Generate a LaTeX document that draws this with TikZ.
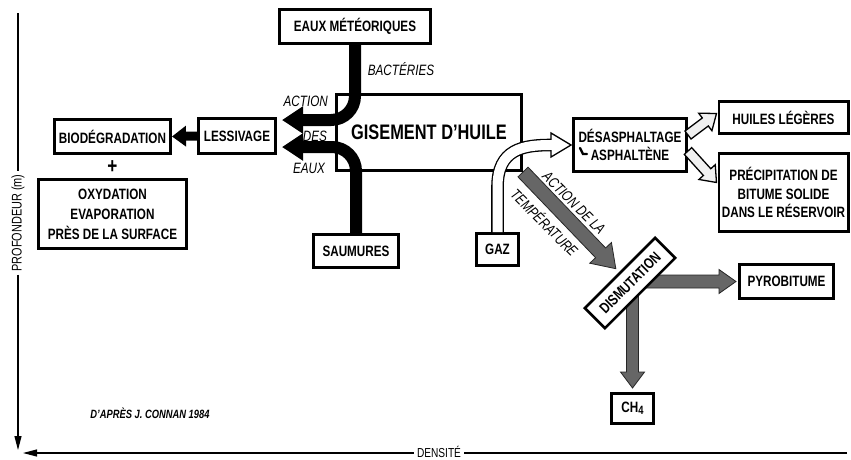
\documentclass[tikz,border=0pt]{standalone}
\usepackage{fontspec}
\setmainfont{Liberation Sans}[FakeStretch=0.78]
\usetikzlibrary{arrows.meta,calc,backgrounds}
\newcommand\boxfont{\bfseries\fontsize{15}{19}\selectfont}
\newcommand\labfont{\itshape\fontsize{15}{18}\selectfont}
% #1 style, #2 start, #3 end, #4 half shaft, #5 half head, #6 head length
\newcommand\bandarrow[6]{%
  \path[#1] let \p1=(#2), \p2=(#3), \n1={atan2(\y2-\y1,\x2-\x1)}, \n2={veclen(\x2-\x1,\y2-\y1)} in
  [shift={(\p1)}, rotate=\n1] (0pt,-#4) -- (\n2-#6,-#4) -- (\n2-#6,-#5) -- (\n2+0pt,0pt) -- (\n2-#6,#5) -- (\n2-#6,#4) -- (0pt,#4) -- cycle;}
\tikzset{
  box/.style={draw, line width=2.6pt, fill=white, align=center, inner sep=0pt, font=\boxfont},
  lab/.style={font=\labfont, inner sep=1pt},
  blk/.style={draw=black, line width=12pt, -{Triangle[length=21pt,width=26pt]}},
  hollow/.style={draw=black, line width=1.3pt, fill=gray!12, line join=miter},
  shade/.style={draw=black!85, line width=0.8pt, fill=black!60, line join=miter},
  axis/.style={line width=1.1pt},
}
\begin{document}
\begin{tikzpicture}[x=1pt,y=-1pt]
\useasboundingbox (0,0) rectangle (851,459);
% boxes
\node[box, minimum width=151.4pt, minimum height=34.4pt] (eaux) at (355,26.5) {EAUX MÉTÉORIQUES};
\node[box, minimum width=185.4pt, minimum height=76.4pt, font=\bfseries\fontsize{21}{24}\selectfont] (gis) at (429,132.5) {GISEMENT D'HUILE};
\node[box, minimum width=77.4pt, minimum height=35.4pt] (lessi) at (237,136) {LESSIVAGE};
\node[box, minimum width=116.4pt, minimum height=34.4pt] (bio) at (112.5,136.5) {BIODÉGRADATION};
\node[font=\bfseries\fontsize{22}{22}\selectfont, inner sep=0pt] (plus) at (112.5,167.5) {+};
\node[box, minimum width=148.4pt, minimum height=69.4pt, font=\bfseries\fontsize{15}{20}\selectfont] (oxy) at (112.5,214) {OXYDATION\\EVAPORATION\\PRÈS DE LA SURFACE};
\node[box, minimum width=85.4pt, minimum height=33.4pt] (saum) at (356,251) {SAUMURES};
\node[box, minimum width=113.4pt, minimum height=53.4pt, font=\bfseries\fontsize{15}{18}\selectfont] (desa) at (630,145) {DÉSASPHALTAGE\\ASPHALTÈNE};
\node[box, minimum width=129.4pt, minimum height=32.4pt] (huil) at (783.5,117.5) {HUILES LÉGÈRES};
\node[box, minimum width=129.4pt, minimum height=78.4pt, font=\bfseries\fontsize{15}{18.5}\selectfont] (prec) at (783.5,192.5) {PRÉCIPITATION DE\\BITUME SOLIDE\\DANS LE RÉSERVOIR};
\node[box, minimum width=42.4pt, minimum height=32.4pt] (gaz) at (497.5,249.5) {GAZ};
\node[box, minimum width=99.4pt, minimum height=28.4pt, rotate=45] (dism) at (630,283) {DISMUTATION};
\node[box, minimum width=94.4pt, minimum height=34.4pt] (pyro) at (786.5,281.5) {PYROBITUME};
\node[box, minimum width=42.4pt, minimum height=30.4pt] (ch4) at (632.5,408.5) {CH\raisebox{-2.5pt}{\bfseries\fontsize{12}{12}\selectfont 4}};
% small hooked mark before ASPHALTENE
\draw[line width=2.4pt, line cap=round] ($(desa.center)+(-50,3)$) -- ++(3,6) -- ++(4,0);
% shaded arrows behind boxes
\begin{scope}[on background layer]
\bandarrow{shade}{gis.south east}{$(dism.north)!4pt!(gis.south east)$}{7pt}{15pt}{22pt}
\bandarrow{shade}{dism.center |- pyro.west}{$(pyro.west)+(-2,0)$}{6.5pt}{12pt}{17pt}
\bandarrow{shade}{ch4.north |- dism.center}{$(ch4.north)+(0,-4)$}{6pt}{12pt}{16pt}
\end{scope}
% black arrows
\coordinate (t1) at (282,120);
\coordinate (t2) at (282,147);
\draw[blk, rounded corners=24pt] (eaux.south) -- (eaux.south |- t1) -- (t1);
\draw[blk, rounded corners=24pt] (saum.north) -- (saum.north |- t2) -- (t2);
\draw[line width=9pt, -{Triangle[length=14pt,width=20pt]}] (lessi.west) -- (bio.east);
% hollow arrows
\bandarrow{hollow}{$(desa.east)+(0,-10)$}{$(huil.west)+(-1,-4)$}{5pt}{11pt}{14pt}
\bandarrow{hollow}{$(desa.east)+(0,6)$}{$(prec.west)+(-1,-10)$}{5pt}{11pt}{14pt}
% gas arrow
\coordinate (gh) at ($(desa.west)+(-21,0)$);
\coordinate (gt) at ($(desa.west)+(-1,0)$);
\draw[line width=12.6pt] (gaz.north) -- ++(0,-45) .. controls ++(0,-38) and ($(gh)+(-28,0)$) .. (gh);
\draw[line width=10pt, white] (gaz.north) -- ++(0,-45) .. controls ++(0,-38) and ($(gh)+(-28,0)$) .. (gh);
\draw[fill=white, line width=1.3pt, line join=miter] ($(gh)+(0,-12)$) -- (gt) -- ($(gh)+(0,12)$) -- cycle;
\draw[white, line width=10pt] ($(gh)+(-2,0)$) -- ($(gh)+(2,0)$);
% labels
\node[lab] (bact) at (401,69) {BACTÉRIES};
\node[lab, anchor=east] (act) at (329,101) {ACTION};
\node[lab] (des) at (315,136) {DES};
\node[lab] (eauxl) at (309,168) {EAUX};
\node[lab, rotate=-45] (adl) at (574,203) {ACTION DE LA};
\node[lab, rotate=-45] (temp) at (545,222) {TEMPÉRATURE};
\node[font=\bfseries\itshape\fontsize{12}{14}\selectfont] (src) at (150,413) {D'APRÈS J. CONNAN 1984};
% axes
\node[font=\fontsize{14}{16}\selectfont, rotate=90, inner sep=3pt] (prof) at (18,223) {PROFONDEUR (m)};
\coordinate (vtop) at (18,13);
\coordinate (vbot) at (18,450);
\draw[axis] (vtop) -- (prof.east);
\draw[axis, -{Triangle[length=14pt,width=7pt]}] (prof.west) -- (vbot);
\node[font=\fontsize{13}{15}\selectfont, inner sep=3pt] (dens) at (439,452) {DENSITÉ};
\coordinate (hr) at (847,453);
\coordinate (hl) at (23,453);
\draw[axis] (hr) -- (hr -| dens.east);
\draw[axis, -{Triangle[length=14pt,width=7pt]}] (hr -| dens.west) -- (hl);
\end{tikzpicture}
\end{document}
